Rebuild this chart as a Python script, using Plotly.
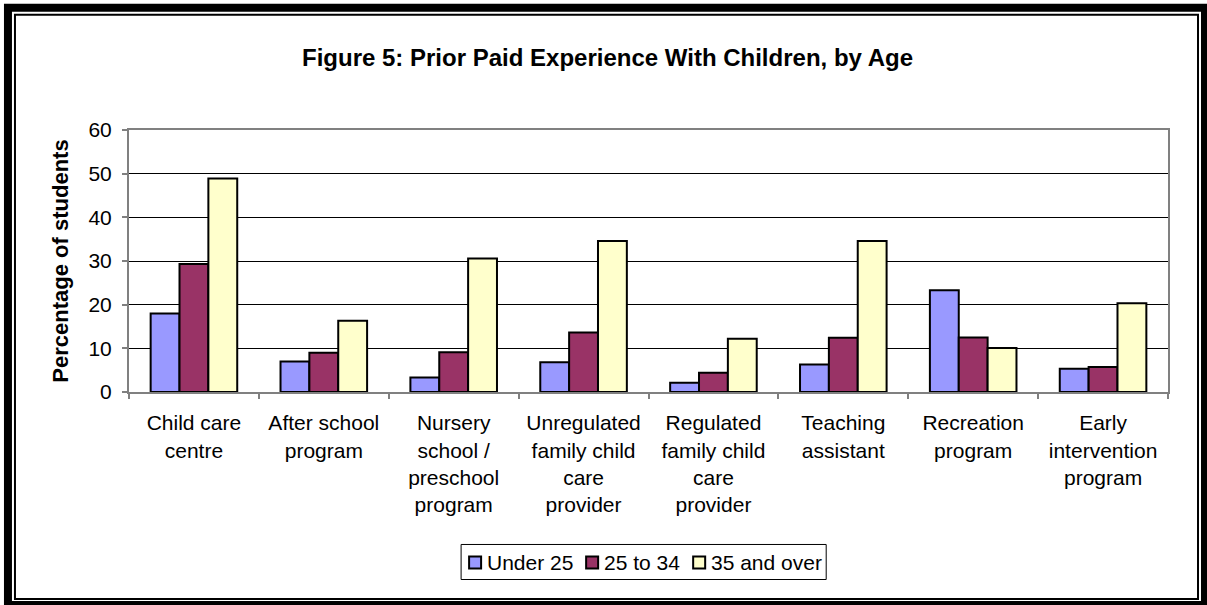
import plotly.graph_objects as go

categories = [
    "Child care<br>centre",
    "After school<br>program",
    "Nursery<br>school /<br>preschool<br>program",
    "Unregulated<br>family child<br>care<br>provider",
    "Regulated<br>family child<br>care<br>provider",
    "Teaching<br>assistant",
    "Recreation<br>program",
    "Early<br>intervention<br>program",
]
under_25 = [18.0, 7.0, 3.3, 6.8, 2.1, 6.3, 23.3, 5.3]
age_25_34 = [29.3, 9.0, 9.1, 13.6, 4.4, 12.4, 12.5, 5.7]
age_35_over = [48.9, 16.3, 30.6, 34.6, 12.2, 34.6, 10.1, 20.3]

series_names = ["Under 25", "25 to 34", "35 and over"]
series_values = [under_25, age_25_34, age_35_over]
series_colors = ["#9999FF", "#993366", "#FFFFCC"]

W, H = 1207, 605
L, R, T, B = 129, 1167.7, 130, 391.7  # plot area edges in px

FONT = "Liberation Sans, Arial, sans-serif"

fig = go.Figure()
for name, vals, col in zip(series_names, series_values, series_colors):
    fig.add_trace(go.Bar(
        name=name, x=categories, y=vals, showlegend=False,
        marker=dict(color=col, line=dict(color="black", width=2)),
    ))


def px_x(x):
    return (x - L) / (R - L)


def px_y(y):
    return (B - y) / (B - T)


shapes = []
annotations = []

# double frame around the chart
for (x0, y0, x1, y1, w) in [(8, 8, 1204.7, 604.5, 8), (15, 15, 1197.7, 598.5, 2)]:
    shapes.append(dict(type="rect", xref="paper", yref="paper",
                       x0=px_x(x0), x1=px_x(x1), y0=px_y(y0), y1=px_y(y1),
                       line=dict(color="black", width=w), layer="above"))

# legend box with a swatch and label per series
shapes.append(dict(type="rect", xref="paper", yref="paper",
                   x0=px_x(461), x1=px_x(826), y0=px_y(544), y1=px_y(579),
                   line=dict(color="black", width=1), fillcolor="white"))
swatch_left = [469, 586, 693]
for name, col, sx in zip(series_names, series_colors, swatch_left):
    shapes.append(dict(type="rect", xref="paper", yref="paper",
                       x0=px_x(sx), x1=px_x(sx + 12), y0=px_y(556), y1=px_y(568),
                       line=dict(color="black", width=2), fillcolor=col))
    annotations.append(dict(text=name, xref="paper", yref="paper",
                            x=px_x(sx + 16), y=px_y(562), xanchor="left",
                            yanchor="middle", showarrow=False,
                            font=dict(size=21, family=FONT, color="black")))

fig.update_layout(
    width=W, height=H,
    margin=dict(l=L, r=W - R, t=T, b=H - B, autoexpand=False),
    paper_bgcolor="white", plot_bgcolor="white",
    barmode="group", bargap=1 / 3, bargroupgap=0,
    font=dict(family=FONT, size=21, color="black"),
    title=dict(text="<b>Figure 5: Prior Paid Experience With Children, by Age</b>",
               x=607.5 / W, xanchor="center", y=1 - 58 / H, yanchor="middle",
               font=dict(size=24, family=FONT, color="black")),
    xaxis=dict(type="category", tickson="boundaries", ticks="outside", ticklen=5,
               tickcolor="#808080", tickwidth=1.5, showline=True, linecolor="#808080",
               linewidth=2, mirror=True, showgrid=False, tickangle=0,
               tickfont=dict(size=21), automargin=False, ticklabelstandoff=11),
    yaxis=dict(range=[0, 60], dtick=10, ticks="outside", ticklen=5,
               tickcolor="#808080", tickwidth=1.5, showline=True, linecolor="#808080",
               linewidth=2, mirror=True, showgrid=True, gridcolor="black", gridwidth=1,
               zeroline=False, tickfont=dict(size=21), automargin=False,
               ticklabelstandoff=6,
               title=dict(text="<b>Percentage of students</b>", font=dict(size=22),
                          standoff=14)),
    shapes=shapes,
    annotations=annotations,
)

fig.write_html("out.html")
